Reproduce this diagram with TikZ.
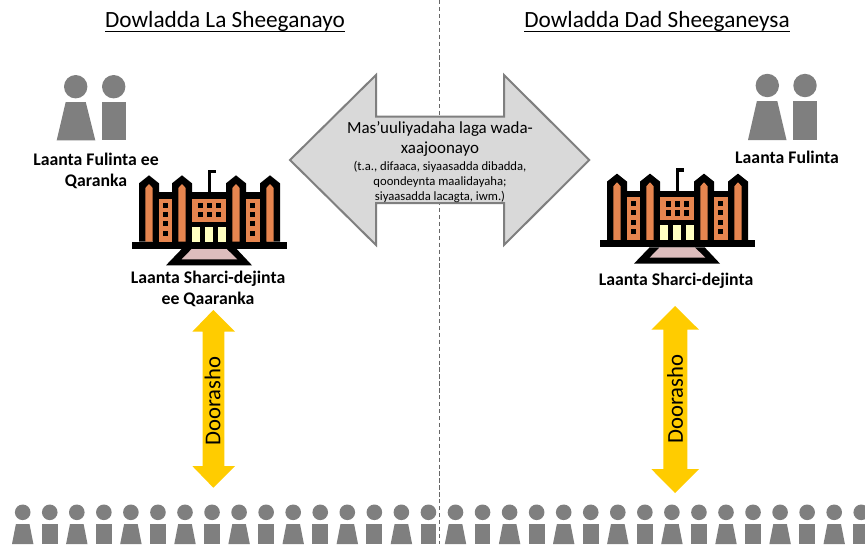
\documentclass[tikz,border=0pt]{standalone}
\usepackage{fontspec}
\setmainfont{Carlito}
\definecolor{pgray}{HTML}{7F7F7F}
\definecolor{agray}{HTML}{D9D9D9}
\definecolor{yel}{HTML}{FFCC00}
\definecolor{brick}{HTML}{E6854F}
\definecolor{cream}{HTML}{FFFFC0}
\definecolor{pinkish}{HTML}{DDBDBD}
\newcommand{\myul}[1]{\setbox0=\hbox{#1}\rlap{\rule[-3.4pt]{\wd0}{.75pt}}\box0}
\tikzset{
  titletext/.style={font=\fontsize{17.45}{20}\selectfont,anchor=base,inner sep=0pt},
  boldlabel/.style={font=\fontsize{13.3}{16.3}\selectfont\bfseries,align=center,inner sep=0pt},
  doortext/.style={font=\fontsize{17}{20}\selectfont,rotate=90,inner sep=0pt},
  persongray/.style={fill=pgray,draw=none},
  blk/.style={fill=black,draw=none},
  org/.style={fill=brick,draw=none},
  yarrow/.style={fill=yel,draw=none}
}
% building drawn in zoomed coordinates (3 units = 1 px)
\newcommand{\bldg}[2]{%
\begin{scope}[shift={(#1,#2)},x=.25pt,y=-.25pt]
  \fill[blk] (36,245) rectangle (500,267);
  \fill[blk] (138,316) -- (185,267) -- (350,267) -- (396,316) -- cycle;
  \fill[pinkish] (215,267) -- (320,267) -- (352,298) -- (185,298) -- cycle;
  \fill[blk] (100,97) rectangle (440,245);
  \fill[blk] (265,30) rectangle (273,97);
  \fill[blk] (265,30) rectangle (287,40);
  \foreach \a in {87,186,348,450}{
    \fill[blk] (\a-30,245) -- (\a-30,70) -- (\a,46) -- (\a+30,70) -- (\a+30,245) -- cycle;
    \fill[org] (\a-11,245) -- (\a-11,84) -- (\a,72) -- (\a+11,84) -- (\a+11,245) -- cycle;
  }
  \fill[org] (117,117) rectangle (157,245);
  \fill[org] (378,117) rectangle (420,245);
  \fill[org] (216,117) rectangle (318,185);
  \foreach \a in {234,261,288}\foreach \b in {129,156}{\fill[blk] (\a,\b) rectangle (\a+15,\b+16);}
  \foreach \a in {130,391}\foreach \b in {129,156,184,212}{\fill[blk] (\a,\b) rectangle (\a+14,\b+15);}
  \foreach \a in {217,255,294}{\fill[cream] (\a,200) rectangle (\a+24,245);}
\end{scope}}
\begin{document}
\begin{tikzpicture}[x=.75pt,y=-.75pt]
\useasboundingbox (0,0) rectangle (865,544);
\fill[white] (0,0) rectangle (865,544);
\clip (0,0) rectangle (865,544);
% divider
\coordinate (divtop) at (439.6,0);
\coordinate (divbot) at (439.6,544);
\draw[color=black!60,line width=1pt,dash pattern=on 3.2pt off 2pt] (divtop) -- (divbot);
% titles
\node[titletext] (t1) at (225,27) {\myul{Dowladda La Sheeganayo}};
\node[titletext] (t2) at (657,27) {\myul{Dowladda Dad Sheeganeysa}};
% top persons
\fill[persongray] (75.7,86.7) circle (11.7);
\fill[persongray] (65.7,102) -- (85.7,102) -- (95.3,140.3) -- (56.7,140.3) -- cycle;
\fill[persongray] (113.7,86.7) circle (11.7);
\fill[persongray] (102,102) rectangle (126,140.3);
\fill[persongray] (767.3,85.5) circle (11.7);
\fill[persongray] (756.9,101) -- (777.3,101) -- (786.5,140) -- (748,140) -- cycle;
\fill[persongray] (805,85.5) circle (11.7);
\fill[persongray] (793,101) rectangle (817,140);
% labels
\node[boldlabel] (l1) at (96,171) {Laanta Fulinta ee\\Qaranka};
\node[boldlabel] (l2) at (787,157.7) {Laanta Fulinta};
% buildings
\bldg{120}{160}
\bldg{588}{158.3}
\node[boldlabel] (l3) at (208,289) {Laanta Sharci-dejinta\\ee Qaaranka};
\node[boldlabel] (l4) at (676,280.7) {Laanta Sharci-dejinta};
% central double arrow
\draw[fill=agray,draw=pgray,line width=1.5pt,line join=miter]
  (290,160) -- (376,75) -- (376,116.7) -- (504,116.7) -- (504,75) -- (589.3,160)
  -- (504,245) -- (504,203) -- (376,203) -- (376,245) -- cycle;
\node[align=center,inner sep=0pt,font=\fontsize{12.7}{15}\selectfont] (m1) at (440,139) {Mas’uuliyadaha laga wada-\\xaajoonayo};
\node[align=center,inner sep=0pt,font=\fontsize{9.5}{11.3}\selectfont] (m2) at (440,182) {(t.a., difaaca, siyaasadda dibadda,\\qoondeynta maalidayaha;\\siyaasadda lacagta, iwm.)};
% yellow arrows
\fill[yarrow] (213.3,310) -- (235,331.7) -- (224.3,331.7) -- (224.3,466) -- (235,466) -- (213.3,487.7)
  -- (192.3,466) -- (202.7,466) -- (202.7,331.7) -- (192.3,331.7) -- cycle;
\node[doortext] (d1) at (212.7,401) {Doorasho};
\fill[yarrow] (675,306) -- (699,329.7) -- (687.3,329.7) -- (687.3,469) -- (699,469) -- (675,493)
  -- (651.3,469) -- (663.3,469) -- (663.3,329.7) -- (651.3,329.7) -- cycle;
\node[doortext] (d2) at (675,399) {Doorasho};
% crowd
\foreach \i in {0,2,...,30}{
  \pgfmathsetmacro{\cx}{22.7+27.05*\i}
  \fill[persongray] (\cx,512.3) circle (7.8);
  \fill[persongray] (\cx-6.8,524) -- (\cx+6.8,524) -- (\cx+10.7,544) -- (\cx-10.7,544) -- cycle;
}
\foreach \i in {1,3,...,31}{
  \pgfmathsetmacro{\cx}{22.7+27.05*\i}
  \fill[persongray] (\cx,512.3) circle (7.8);
  \fill[persongray] (\cx-7.9,524) rectangle (\cx+7.9,544);
}
\end{tikzpicture}
\end{document}
